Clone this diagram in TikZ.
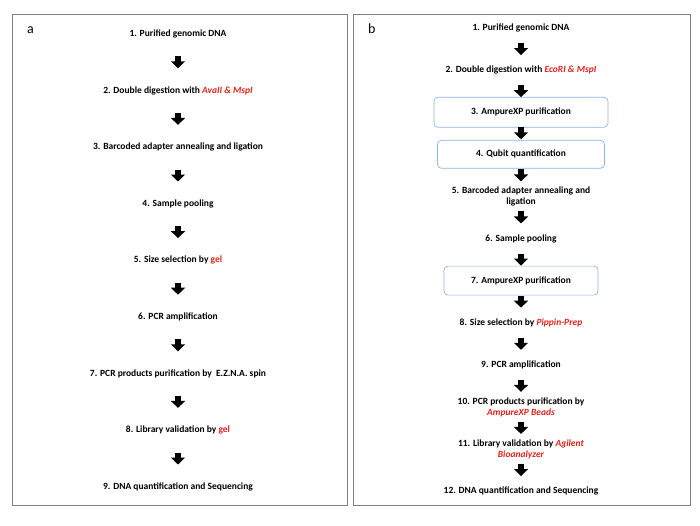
\documentclass[tikz,border=0pt]{standalone}
\usepackage{fontspec}
\setmainfont{Carlito}
\usetikzlibrary{arrows.meta,calc}
\definecolor{stepred}{HTML}{E2231A}
\definecolor{boxblue}{HTML}{8EB4E3}
\definecolor{framegray}{HTML}{808080}
\newcommand{\enz}[1]{\textcolor{stepred}{\textit{#1}}}
\newcommand{\redgel}{\textcolor{stepred}{gel}}

\begin{document}
\begin{tikzpicture}[x=1pt, y=1pt,
    every node/.style={font=\bfseries\fontsize{9.5}{11}\selectfont, align=center, inner sep=1pt},
    frame/.style={draw=framegray, line width=0.8pt},
    stepbox/.style={draw=boxblue, rounded corners=4pt, line width=0.7pt},
    panel/.style={font=\fontsize{14}{16}\selectfont, anchor=base west},
    blockarrow/.style={line width=6pt, -{Triangle[width=14pt, length=7pt]},
      to path={($(\tikztostart)!0.5!(\tikztotarget)+(0,6)$) -- ($(\tikztostart)!0.5!(\tikztotarget)-(0,6)$)}}]
    \useasboundingbox (0,0) rectangle (700,-525);
    \draw[frame] (12,-14) rectangle (347,-505);
    \draw[frame] (353,-14) rectangle (690,-505);
    \node[panel] (la) at (26,-33) {a};
    \node[panel] (lb) at (367,-33) {b};

    % panel a
    \begin{scope}[node distance=56.6pt]
        \node (a1) at (178,-34) {1. Purified genomic DNA};
        \node[below of=a1] (a2) {2. Double digestion with \enz{AvaII \& MspI}};
        \node[below of=a2] (a3) {3. Barcoded adapter annealing and ligation};
        \node[below of=a3] (a4) {4. Sample pooling};
        \node[below of=a4] (a5) {5. Size selection by \redgel};
        \node[below of=a5] (a6) {6. PCR amplification};
        \node[below of=a6] (a7) {7. PCR products purification by \ E.Z.N.A. spin};
        \node[below of=a7] (a8) {8. Library validation by \redgel};
        \node[below of=a8] (a9) {9. DNA quantification and Sequencing};
    \end{scope}
    \draw[blockarrow] (a1) to (a2);
    \draw[blockarrow] (a2) to (a3);
    \draw[blockarrow] (a3) to (a4);
    \draw[blockarrow] (a4) to (a5);
    \draw[blockarrow] (a5) to (a6);
    \draw[blockarrow] (a6) to (a7);
    \draw[blockarrow] (a7) to (a8);
    \draw[blockarrow] (a8) to (a9);

    % panel b
    \begin{scope}[node distance=42.1pt]
        \node (b1) at (521,-28) {1. Purified genomic DNA};
        \node[below of=b1] (b2) {2. Double digestion with \enz{EcoRI \& MspI}};
        \node[below of=b2, stepbox, minimum width=174pt, minimum height=30pt] (b3) {3. AmpureXP purification};
        \node[below of=b3, stepbox, minimum width=167pt, minimum height=28pt] (b4) {4. Qubit quantification};
        \node[below of=b4] (b5) {5. Barcoded adapter annealing and\\ligation};
        \node[below of=b5] (b6) {6. Sample pooling};
        \node[below of=b6, stepbox, minimum width=154pt, minimum height=29pt] (b7) {7. AmpureXP purification};
        \node[below of=b7] (b8) {8. Size selection by \enz{Pippin-Prep}};
        \node[below of=b8] (b9) {9. PCR amplification};
        \node[below of=b9] (b10) {10. PCR products purification by\\\enz{AmpureXP Beads}};
        \node[below of=b10] (b11) {11. Library validation by \enz{Agilent}\\\enz{Bioanalyzer}};
        \node[below of=b11] (b12) {12. DNA quantification and Sequencing};
    \end{scope}
    \draw[blockarrow] (b1) to (b2);
    \draw[blockarrow] (b2) to (b3);
    \draw[blockarrow] (b3) to (b4);
    \draw[blockarrow] (b4) to (b5);
    \draw[blockarrow] (b5) to (b6);
    \draw[blockarrow] (b6) to (b7);
    \draw[blockarrow] (b7) to (b8);
    \draw[blockarrow] (b8) to (b9);
    \draw[blockarrow] (b9) to (b10);
    \draw[blockarrow] (b10) to (b11);
    \draw[blockarrow] (b11) to (b12);
\end{tikzpicture}
\end{document}
